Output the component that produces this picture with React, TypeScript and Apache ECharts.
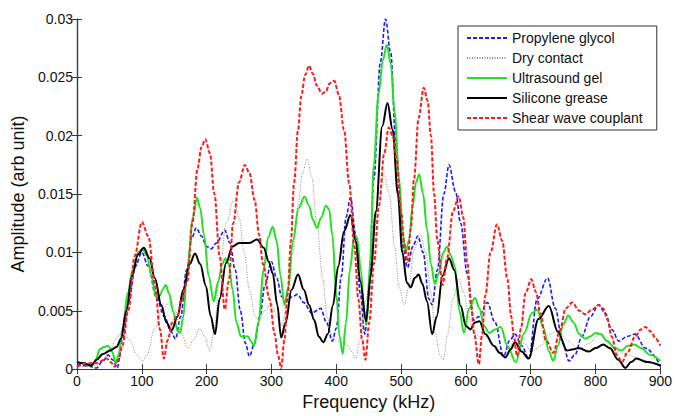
import React, { useEffect, useRef } from "react";
import * as echarts from "echarts";

// Frequency (kHz) / amplitude (arb unit)
const propyleneFreq = [0, 15, 30, 40, 48, 55, 62, 70, 80, 90, 100, 110, 122, 135, 145, 152, 160, 169, 177, 184, 192, 200, 207, 215, 228, 236, 244, 252, 260, 266, 274, 282, 290, 300, 308, 316, 322, 332, 340, 350, 362, 376, 385, 394, 400, 408, 415, 422, 430, 437, 444, 450, 458, 468, 476, 484, 492, 502, 510, 518, 526, 534, 543, 548, 556, 566, 574, 584, 592, 602, 612, 620, 633, 645, 658, 668, 676, 686, 697, 710, 726, 738, 749, 759, 768, 779, 792, 805, 815, 825, 836, 849, 861, 877, 900];
const propyleneAmp = [0.0004, 0.0003, 0.0001, 0.0007, 0.0012, 0.0008, 0.0001, 0.0025, 0.0058, 0.0088, 0.0100, 0.0088, 0.0062, 0.0045, 0.0032, 0.0026, 0.0045, 0.0085, 0.0112, 0.0121, 0.0114, 0.0105, 0.0103, 0.0108, 0.0119, 0.0108, 0.0085, 0.0050, 0.0022, 0.0011, 0.0022, 0.0045, 0.0072, 0.0092, 0.0078, 0.0062, 0.0058, 0.0062, 0.0064, 0.0057, 0.0048, 0.0052, 0.0040, 0.0024, 0.0035, 0.0080, 0.0130, 0.0147, 0.0115, 0.0065, 0.0030, 0.0060, 0.0163, 0.0263, 0.0300, 0.0271, 0.0192, 0.0107, 0.0087, 0.0105, 0.0114, 0.0100, 0.0060, 0.0055, 0.0085, 0.0150, 0.0175, 0.0152, 0.0125, 0.0082, 0.0042, 0.0045, 0.0057, 0.0040, 0.0011, 0.0025, 0.0030, 0.0020, 0.0009, 0.0060, 0.0078, 0.0052, 0.0023, 0.0007, 0.0012, 0.0028, 0.0045, 0.0055, 0.0048, 0.0034, 0.0024, 0.0028, 0.0030, 0.0018, 0.0003];

const dryFreq = [0, 15, 30, 40, 50, 60, 71, 82, 92, 101, 108, 120, 132, 145, 152, 160, 171, 180, 189, 197, 205, 212, 220, 230, 242, 250, 258, 266, 275, 281, 290, 300, 308, 316, 325, 333, 341, 348, 355, 362, 370, 379, 386, 392, 400, 410, 418, 424, 430, 437, 446, 456, 466, 474, 482, 490, 497, 505, 512, 520, 530, 538, 546, 553, 560, 565, 572, 580, 589, 597, 604, 614, 624, 633, 645, 656, 666, 677, 690, 702, 715, 730, 743, 758, 774, 790, 805, 820, 835, 851, 871, 900];
const dryAmp = [0.0003, 0.0002, 0.0003, 0.0008, 0.0015, 0.0026, 0.0033, 0.0025, 0.0012, 0.0007, 0.0012, 0.0035, 0.0052, 0.0058, 0.0050, 0.0032, 0.0018, 0.0025, 0.0035, 0.0028, 0.0015, 0.0035, 0.0080, 0.0125, 0.0145, 0.0130, 0.0100, 0.0068, 0.0045, 0.0042, 0.0050, 0.0056, 0.0045, 0.0037, 0.0060, 0.0100, 0.0140, 0.0168, 0.0180, 0.0165, 0.0125, 0.0078, 0.0045, 0.0030, 0.0024, 0.0023, 0.0020, 0.0015, 0.0009, 0.0025, 0.0060, 0.0105, 0.0150, 0.0166, 0.0150, 0.0105, 0.0070, 0.0055, 0.0070, 0.0102, 0.0115, 0.0100, 0.0065, 0.0030, 0.0012, 0.0008, 0.0030, 0.0060, 0.0077, 0.0065, 0.0045, 0.0030, 0.0027, 0.0028, 0.0020, 0.0011, 0.0018, 0.0027, 0.0022, 0.0015, 0.0020, 0.0030, 0.0033, 0.0024, 0.0017, 0.0022, 0.0030, 0.0022, 0.0015, 0.0012, 0.0008, 0.0002];

const gelFreq = [0, 10, 20, 28, 35, 42, 48, 54, 60, 64, 71, 78, 86, 94, 101, 108, 115, 122, 128, 132, 137, 142, 148, 155, 159, 164, 170, 179, 185, 190, 196, 203, 211, 218, 224, 229, 234, 240, 246, 253, 258, 264, 268, 273, 280, 288, 295, 302, 308, 314, 320, 326, 333, 342, 351, 358, 364, 370, 377, 384, 389, 394, 400, 405, 410, 415, 421, 428, 432, 438, 443, 447, 452, 458, 465, 472, 478, 484, 490, 497, 503, 507, 512, 518, 523, 528, 534, 540, 546, 552, 558, 565, 571, 577, 583, 590, 597, 605, 614, 621, 628, 636, 645, 654, 664, 677, 690, 702, 710, 720, 728, 735, 742, 750, 758, 766, 775, 784, 792, 800, 808, 818, 830, 840, 850, 860, 870, 885, 900];
const gelAmp = [0.0006, 0.0005, 0.0003, 0.0006, 0.0017, 0.0019, 0.0020, 0.0015, 0.0005, 0.0012, 0.0036, 0.0065, 0.0085, 0.0100, 0.0103, 0.0097, 0.0080, 0.0062, 0.0063, 0.0068, 0.0072, 0.0065, 0.0050, 0.0033, 0.0031, 0.0045, 0.0085, 0.0130, 0.0147, 0.0138, 0.0115, 0.0080, 0.0058, 0.0075, 0.0090, 0.0095, 0.0090, 0.0068, 0.0040, 0.0028, 0.0028, 0.0028, 0.0024, 0.0020, 0.0040, 0.0085, 0.0113, 0.0122, 0.0110, 0.0080, 0.0055, 0.0070, 0.0110, 0.0138, 0.0148, 0.0140, 0.0128, 0.0121, 0.0130, 0.0140, 0.0137, 0.0115, 0.0065, 0.0028, 0.0013, 0.0040, 0.0085, 0.0115, 0.0113, 0.0085, 0.0050, 0.0038, 0.0090, 0.0175, 0.0235, 0.0265, 0.0278, 0.0262, 0.0220, 0.0163, 0.0115, 0.0100, 0.0110, 0.0140, 0.0160, 0.0167, 0.0150, 0.0120, 0.0090, 0.0073, 0.0082, 0.0100, 0.0105, 0.0097, 0.0088, 0.0050, 0.0031, 0.0052, 0.0061, 0.0052, 0.0037, 0.0031, 0.0034, 0.0036, 0.0020, 0.0006, 0.0031, 0.0048, 0.0051, 0.0035, 0.0015, 0.0007, 0.0020, 0.0038, 0.0046, 0.0040, 0.0030, 0.0026, 0.0028, 0.0031, 0.0030, 0.0024, 0.0018, 0.0016, 0.0020, 0.0021, 0.0018, 0.0012, 0.0007];

const greaseFreq = [0, 10, 22, 30, 40, 51, 61, 68, 76, 85, 94, 103, 112, 120, 130, 138, 146, 155, 164, 174, 182, 190, 199, 206, 213, 220, 230, 240, 250, 265, 278, 288, 296, 302, 309, 315, 322, 331, 341, 350, 358, 366, 373, 380, 387, 395, 403, 412, 422, 430, 437, 446, 453, 461, 471, 479, 487, 495, 502, 509, 515, 521, 527, 533, 540, 548, 555, 564, 574, 582, 592, 600, 607, 614, 621, 630, 643, 652, 661, 669, 676, 686, 697, 712, 728, 742, 756, 766, 774, 790, 800, 812, 822, 835, 846, 855, 863, 880, 900];
const greaseAmp = [0.0006, 0.0005, 0.0003, 0.0008, 0.0013, 0.0016, 0.0019, 0.0026, 0.0050, 0.0080, 0.0098, 0.0104, 0.0095, 0.0078, 0.0055, 0.0040, 0.0033, 0.0045, 0.0068, 0.0090, 0.0099, 0.0090, 0.0071, 0.0046, 0.0030, 0.0060, 0.0091, 0.0105, 0.0108, 0.0108, 0.0111, 0.0104, 0.0092, 0.0082, 0.0055, 0.0027, 0.0040, 0.0068, 0.0081, 0.0068, 0.0055, 0.0042, 0.0028, 0.0023, 0.0030, 0.0055, 0.0088, 0.0118, 0.0132, 0.0110, 0.0075, 0.0041, 0.0080, 0.0135, 0.0208, 0.0228, 0.0205, 0.0150, 0.0100, 0.0074, 0.0070, 0.0078, 0.0081, 0.0073, 0.0058, 0.0030, 0.0045, 0.0080, 0.0095, 0.0085, 0.0054, 0.0037, 0.0034, 0.0040, 0.0041, 0.0030, 0.0020, 0.0014, 0.0010, 0.0017, 0.0023, 0.0015, 0.0009, 0.0043, 0.0054, 0.0032, 0.0016, 0.0017, 0.0018, 0.0015, 0.0018, 0.0021, 0.0018, 0.0008, 0.0001, 0.0006, 0.0009, 0.0006, 0.0003];

const shearFreq = [0, 15, 30, 46, 52, 58, 64, 70, 79, 89, 100, 110, 120, 128, 134, 140, 147, 155, 162, 170, 178, 186, 192, 198, 205, 212, 220, 228, 234, 241, 250, 259, 266, 274, 281, 287, 297, 305, 310, 315, 320, 325, 330, 335, 341, 346, 352, 358, 364, 370, 378, 384, 390, 397, 404, 412, 420, 428, 434, 440, 445, 451, 458, 466, 474, 481, 487, 493, 500, 505, 510, 515, 520, 527, 535, 541, 546, 551, 556, 564, 571, 580, 589, 596, 602, 608, 613, 620, 625, 630, 638, 648, 656, 664, 670, 674, 679, 685, 692, 701, 708, 715, 723, 735, 745, 754, 764, 775, 784, 795, 805, 812, 818, 825, 833, 841, 850, 861, 870, 877, 886, 893, 900];
const shearAmp = [0.0002, 0.0005, 0.0005, 0.0009, 0.0006, 0.0002, 0.0008, 0.0020, 0.0050, 0.0097, 0.0126, 0.0114, 0.0074, 0.0034, 0.0009, 0.0025, 0.0040, 0.0046, 0.0060, 0.0075, 0.0125, 0.0172, 0.0190, 0.0197, 0.0185, 0.0150, 0.0097, 0.0051, 0.0075, 0.0125, 0.0160, 0.0175, 0.0168, 0.0145, 0.0115, 0.0090, 0.0060, 0.0030, 0.0012, 0.0001, 0.0025, 0.0064, 0.0110, 0.0160, 0.0205, 0.0234, 0.0252, 0.0260, 0.0253, 0.0243, 0.0236, 0.0238, 0.0245, 0.0247, 0.0235, 0.0205, 0.0159, 0.0105, 0.0060, 0.0025, 0.0008, 0.0040, 0.0090, 0.0140, 0.0185, 0.0207, 0.0200, 0.0180, 0.0135, 0.0107, 0.0092, 0.0120, 0.0163, 0.0215, 0.0241, 0.0230, 0.0200, 0.0150, 0.0110, 0.0072, 0.0095, 0.0135, 0.0148, 0.0130, 0.0092, 0.0055, 0.0030, 0.0004, 0.0030, 0.0063, 0.0100, 0.0124, 0.0110, 0.0077, 0.0045, 0.0028, 0.0011, 0.0035, 0.0065, 0.0077, 0.0066, 0.0048, 0.0025, 0.0014, 0.0033, 0.0052, 0.0057, 0.0050, 0.0047, 0.0051, 0.0055, 0.0052, 0.0043, 0.0028, 0.0012, 0.0006, 0.0015, 0.0028, 0.0034, 0.0036, 0.0032, 0.0026, 0.0020];

const seriesNames = ["Propylene glycol", "Dry contact", "Ultrasound gel", "Silicone grease", "Shear wave couplant"];
const xTicks = [0, 900, 100];
const yTicks = [0, 0.03, 0.005];

const FONT = "'Liberation Sans', Arial, Helvetica, sans-serif";

function pairs(f: number[], a: number[]) {
  return f.map((x, i) => [x, a[i]]);
}

export default function App() {
  const ref = useRef<HTMLDivElement>(null);
  useEffect(() => {
    if (!ref.current) return;
    const chart = echarts.init(ref.current, undefined, { renderer: "svg" });
    const axisLine = { show: true, lineStyle: { color: "#3a3a3a", width: 1.2 } };
    const tick = { show: true, inside: true, length: 5, lineStyle: { color: "#3a3a3a", width: 1 } };
    const yFmt = (v: number) => (v === 0 ? "0" : String(+v.toFixed(3)));
    const mk = (name: string, data: number[][], color: string, width: number, type: any) => ({
      name,
      type: "line",
      data,
      symbol: "none",
      showSymbol: false,
      smooth: 0.35,
      smoothMonotone: "x",
      lineStyle: { color, width, type },
      itemStyle: { color },
      xAxisIndex: 0,
      yAxisIndex: 0,
    });
    chart.setOption({
      animation: false,
      backgroundColor: "#ffffff",
      textStyle: { fontFamily: FONT },
      grid: { left: 77, right: 13, top: 19, bottom: 43, containLabel: false },
      legend: {
        orient: "vertical",
        left: 458,
        top: 26,
        padding: [5, 14, 5, 8],
        itemWidth: 40,
        itemHeight: 14,
        itemGap: 6,
        backgroundColor: "#ffffff",
        borderColor: "#333333",
        borderWidth: 1,
        borderRadius: 0,
        itemStyle: { opacity: 0, borderWidth: 0 },
        textStyle: { fontFamily: FONT, fontSize: 14, color: "#111111" },
        data: seriesNames,
      },
      xAxis: [
        {
          type: "value",
          min: xTicks[0],
          max: xTicks[1],
          interval: xTicks[2],
          name: "Frequency (kHz)",
          nameLocation: "middle",
          nameGap: 22,
          nameTextStyle: { fontFamily: FONT, fontSize: 18, color: "#111111" },
          axisLine,
          axisTick: tick,
          axisLabel: { fontFamily: FONT, fontSize: 14, color: "#111111", margin: 5 },
          splitLine: { show: false },
        },
        {
          type: "value",
          position: "top",
          min: xTicks[0],
          max: xTicks[1],
          interval: xTicks[2],
          axisLine,
          axisTick: tick,
          axisLabel: { show: false },
          splitLine: { show: false },
        },
      ],
      yAxis: [
        {
          type: "value",
          min: yTicks[0],
          max: yTicks[1],
          interval: yTicks[2],
          name: "Amplitude (arb unit)",
          nameLocation: "middle",
          nameGap: 46,
          nameTextStyle: { fontFamily: FONT, fontSize: 18, color: "#111111" },
          axisLine,
          axisTick: tick,
          axisLabel: { fontFamily: FONT, fontSize: 14, color: "#111111", margin: 4, formatter: yFmt },
          splitLine: { show: false },
        },
        {
          type: "value",
          position: "right",
          min: yTicks[0],
          max: yTicks[1],
          interval: yTicks[2],
          axisLine,
          axisTick: tick,
          axisLabel: { show: false },
          splitLine: { show: false },
        },
      ],
      series: [
        mk(seriesNames[0], pairs(propyleneFreq, propyleneAmp), "#1a1aff", 1.6, [4, 2]),
        mk(seriesNames[1], pairs(dryFreq, dryAmp), "#8c8c8c", 1, [1, 1.5]),
        mk(seriesNames[2], pairs(gelFreq, gelAmp), "#22e022", 2, "solid"),
        mk(seriesNames[3], pairs(greaseFreq, greaseAmp), "#000000", 2, "solid"),
        mk(seriesNames[4], pairs(shearFreq, shearAmp), "#ff1a1a", 2, [4, 2]),
      ],
    });
    return () => chart.dispose();
  }, []);
  return <div ref={ref} style={{ position: "fixed", left: 0, top: 0, width: 675, height: 416 }} />;
}
